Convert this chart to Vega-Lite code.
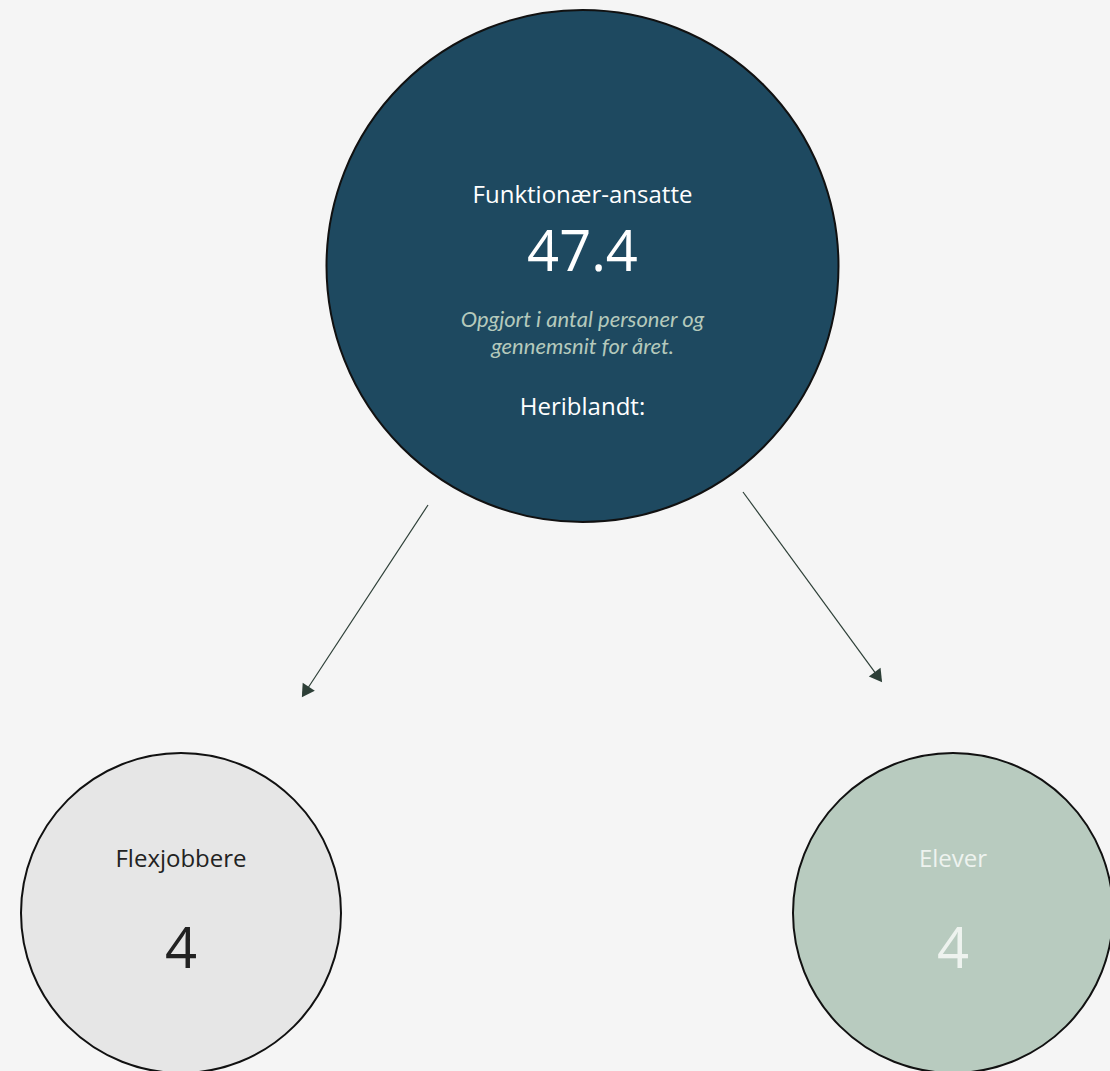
{
  "$schema": "https://vega.github.io/schema/vega-lite/v6.json",
  "width": 1110,
  "height": 1071,
  "autosize": {"type": "none"},
  "padding": 0,
  "background": "#f5f5f5",
  "config": {"view": {"stroke": null}},
  "datasets": {
    "nodes": [
      {"node": "Funktionær-ansatte", "count": 47.4, "value": "47.4", "cx": 582.5, "cy": 266},
      {"node": "Flexjobbere", "count": 4, "value": "4", "cx": 181, "cy": 913},
      {"node": "Elever", "count": 4, "value": "4", "cx": 953, "cy": 913}
    ],
    "arrows": [
      {"from": "Funktionær-ansatte", "to": "Flexjobbere", "x1": 428, "y1": 505, "x2": 305.3, "y2": 692, "heading": 213.3},
      {"from": "Funktionær-ansatte", "to": "Elever", "x1": 743, "y1": 492, "x2": 878.4, "y2": 677.2, "heading": 143.7}
    ]
  },
  "layer": [
    {
      "data": {"name": "nodes"},
      "mark": {"type": "point", "shape": "circle", "filled": true, "stroke": "#111111", "strokeWidth": 2, "opacity": 1, "fillOpacity": 1, "strokeOpacity": 1},
      "encoding": {
        "x": {"field": "cx", "type": "quantitative", "scale": {"domain": [0, 1110], "nice": false, "zero": false}, "axis": null},
        "y": {"field": "cy", "type": "quantitative", "scale": {"domain": [0, 1071], "nice": false, "zero": false, "reverse": true}, "axis": null},
        "size": {"field": "count", "type": "quantitative", "scale": {"domain": [4, 47.4], "range": [102400, 262144], "zero": false}, "legend": null},
        "fill": {"field": "node", "type": "nominal", "scale": {"domain": ["Funktionær-ansatte", "Flexjobbere", "Elever"], "range": ["#1e4960", "#e6e6e6", "#b8cbbf"]}, "legend": null}
      }
    },
    {
      "data": {"name": "arrows"},
      "mark": {"type": "rule", "color": "#2d3f37", "strokeWidth": 1.2},
      "encoding": {
        "x": {"field": "x1", "type": "quantitative"},
        "y": {"field": "y1", "type": "quantitative"},
        "x2": {"field": "x2"},
        "y2": {"field": "y2"}
      }
    },
    {
      "data": {"name": "arrows"},
      "mark": {"type": "point", "shape": "triangle-up", "filled": true, "color": "#2d3f37", "opacity": 1, "size": 210},
      "encoding": {
        "x": {"field": "x2", "type": "quantitative"},
        "y": {"field": "y2", "type": "quantitative"},
        "angle": {"field": "heading", "type": "quantitative", "scale": null}
      }
    },
    {
      "data": {"name": "nodes"},
      "transform": [{"filter": "datum.node === 'Funktionær-ansatte'"}],
      "layer": [
        {
          "mark": {"type": "text", "font": "Open Sans", "fontSize": 24, "color": "#ffffff", "baseline": "middle", "align": "center", "dy": -70},
          "encoding": {"text": {"field": "node"}}
        },
        {
          "mark": {"type": "text", "font": "Open Sans", "fontSize": 56, "color": "#ffffff", "baseline": "middle", "align": "center", "dy": -12},
          "encoding": {"text": {"field": "value"}}
        },
        {
          "mark": {"type": "text", "font": "Lato", "fontStyle": "italic", "fontSize": 22, "lineHeight": 27, "color": "#b5c9bc", "baseline": "middle", "align": "center", "dy": 54},
          "encoding": {"text": {"value": ["Opgjort i antal personer og", "gennemsnit for året."]}}
        },
        {
          "mark": {"type": "text", "font": "Open Sans", "fontSize": 24, "color": "#ffffff", "baseline": "middle", "align": "center", "dy": 142},
          "encoding": {"text": {"value": "Heriblandt:"}}
        }
      ],
      "encoding": {
        "x": {"field": "cx", "type": "quantitative"},
        "y": {"field": "cy", "type": "quantitative"}
      }
    },
    {
      "data": {"name": "nodes"},
      "transform": [{"filter": "datum.node !== 'Funktionær-ansatte'"}],
      "layer": [
        {
          "mark": {"type": "text", "font": "Open Sans", "fontSize": 24, "baseline": "middle", "align": "center", "dy": -53},
          "encoding": {"text": {"field": "node"}}
        },
        {
          "mark": {"type": "text", "font": "Open Sans", "fontSize": 56, "baseline": "middle", "align": "center", "dy": 38},
          "encoding": {"text": {"field": "value"}}
        }
      ],
      "encoding": {
        "x": {"field": "cx", "type": "quantitative"},
        "y": {"field": "cy", "type": "quantitative"},
        "color": {"field": "node", "type": "nominal", "scale": {"domain": ["Flexjobbere", "Elever"], "range": ["#222222", "#eef3ef"]}, "legend": null}
      }
    }
  ]
}
